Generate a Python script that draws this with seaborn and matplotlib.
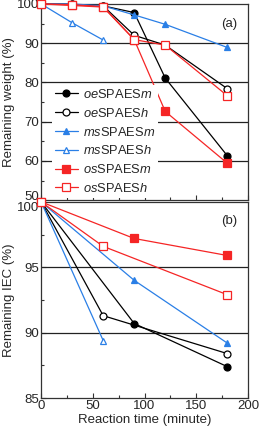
import seaborn as sns
import numpy as np
import matplotlib.pyplot as plt
from matplotlib.ticker import MultipleLocator
from matplotlib.transforms import ScaledTranslation

sns.set_theme(style="ticks")
plt.rcParams['font.family'] = ['Liberation Sans', 'DejaVu Sans']
plt.rcParams['mathtext.fontset'] = 'custom'
plt.rcParams['mathtext.rm'] = 'Liberation Sans'
plt.rcParams['mathtext.it'] = 'Liberation Sans:italic'

#series names
names = [r"$\it{oe}$SPAES$\it{m}$", r"$\it{oe}$SPAES$\it{h}$",
         r"$\it{ms}$SPAES$\it{m}$", r"$\it{ms}$SPAES$\it{h}$",
         r"$\it{os}$SPAES$\it{m}$", r"$\it{os}$SPAES$\it{h}$"]

#(a) remaining weight
t_w = [0, 30, 60, 90, 120, 180]
t_w_short = [0, 30, 60]
oe_m_w = [100, 99.9, 99.5, 97.8, 81.1, 61.3]
oe_h_w = [100, 99.9, 99.5, 92.0, 89.5, 78.4]
ms_m_w = [100, 100, 99.5, 97.2, 94.8, 88.9]
ms_h_w = [100, 95.2, 90.8]
os_m_w = [100, 99.8, 99.3, 90.9, 72.6, 59.4]
os_h_w = [100, 99.6, 99.2, 90.9, 89.5, 76.6]

#(b) remaining IEC
t_oe_m = [0, 90, 180]
t_oe_h = [0, 60, 180]
t_ms_m = [0, 90, 180]
t_ms_h = [0, 60]
t_os_m = [0, 90, 180]
t_os_h = [0, 60, 180]
oe_m_iec = [100, 90.7, 87.4]
oe_h_iec = [100, 91.3, 88.4]
ms_m_iec = [100, 94.0, 89.2]
ms_h_iec = [100, 89.4]
os_m_iec = [100, 97.2, 95.9]
os_h_iec = [100, 96.6, 92.9]

black = "#000000"
blue = "#2a7fe6"
red = "#f52525"
styles = [(black, "o", True), (black, "o", False),
          (blue, "^", True), (blue, "^", False),
          (red, "s", True), (red, "s", False)]

fig = plt.figure(figsize=(2.6, 4.36), dpi=100)
ax1 = fig.add_axes([0.158, 0.541, 0.796, 0.450])
ax2 = fig.add_axes([0.158, 0.087, 0.796, 0.450])

top = [(t_w, oe_m_w), (t_w, oe_h_w), (t_w, ms_m_w),
       (t_w_short, ms_h_w), (t_w, os_m_w), (t_w, os_h_w)]
bot = [(t_oe_m, oe_m_iec), (t_oe_h, oe_h_iec), (t_ms_m, ms_m_iec),
       (t_ms_h, ms_h_iec), (t_os_m, os_m_iec), (t_os_h, os_h_iec)]

for ax, data in [(ax1, top), (ax2, bot)]:
    for (x, y), (c, m, filled), name in zip(data, styles, names):
        sns.lineplot(x=x, y=y, ax=ax, color=c, marker=m, lw=0.9,
                     markersize=5 if m != "s" else 5.2,
                     markeredgecolor=c, markeredgewidth=0.9,
                     markerfacecolor=c if filled else "white",
                     label=name, legend=False, clip_on=False, zorder=3)

for ax in (ax1, ax2):
    ax.set_xlim(0, 200)
    ax.xaxis.set_major_locator(MultipleLocator(50))
    ax.xaxis.set_minor_locator(MultipleLocator(25))
    ax.tick_params(which="both", direction="in", labelsize=9.5,
                   top=False, right=False, width=0.8, color="#333333")
    ax.tick_params(which="major", length=3.5, pad=1.5)
    ax.tick_params(which="minor", length=2.5)
    ax.set_axisbelow(True)
    for s in ax.spines.values():
        s.set_color("#333333")
        s.set_linewidth(0.9)
    ax.set_xlabel("")

ax1.set_ylim(50, 100)
ax1.set_yticks([50, 60, 70, 80, 90, 100])
ax1.yaxis.set_minor_locator(MultipleLocator(5))
ax1.tick_params(labelbottom=False)
for v in [60, 70, 80, 90]:
    ax1.axhline(v, color="#222222", lw=0.9, zorder=1)
ax1.set_ylabel("Remaining weight (%)", fontsize=9.5, labelpad=1)
ax1.text(0.95, 0.90, "(a)", transform=ax1.transAxes, ha="right",
         va="center", fontsize=9.5)
ax1.legend(loc="lower left", bbox_to_anchor=(0.04, 0.0), frameon=True,
           facecolor="white", edgecolor="none", framealpha=1,
           fontsize=9.3, handlelength=1.8, handletextpad=0.4,
           labelspacing=0.45, borderpad=0.2, borderaxespad=0.2)

ax2.set_ylim(85, 100)
ax2.set_yticks([85, 90, 95, 100])
ax2.yaxis.set_minor_locator(MultipleLocator(2.5))
for v in [90, 95]:
    ax2.axhline(v, color="#222222", lw=0.9, zorder=1)
ax2.set_ylabel("Remaining IEC (%)", fontsize=9.5, labelpad=1)
ax2.set_xlabel("Reaction time (minute)", fontsize=9.5, labelpad=1)
ax2.text(0.95, 0.90, "(b)", transform=ax2.transAxes, ha="right",
         va="center", fontsize=9.5)

#nudge the touching 50 / 100 labels apart
lab50 = ax1.get_yticklabels()[0]
lab50.set_transform(lab50.get_transform() + ScaledTranslation(0, 3.5 / 72, fig.dpi_scale_trans))
lab100 = ax2.get_yticklabels()[-1]
lab100.set_transform(lab100.get_transform() + ScaledTranslation(0, -3.5 / 72, fig.dpi_scale_trans))

plt.savefig("out.png", dpi=100)
